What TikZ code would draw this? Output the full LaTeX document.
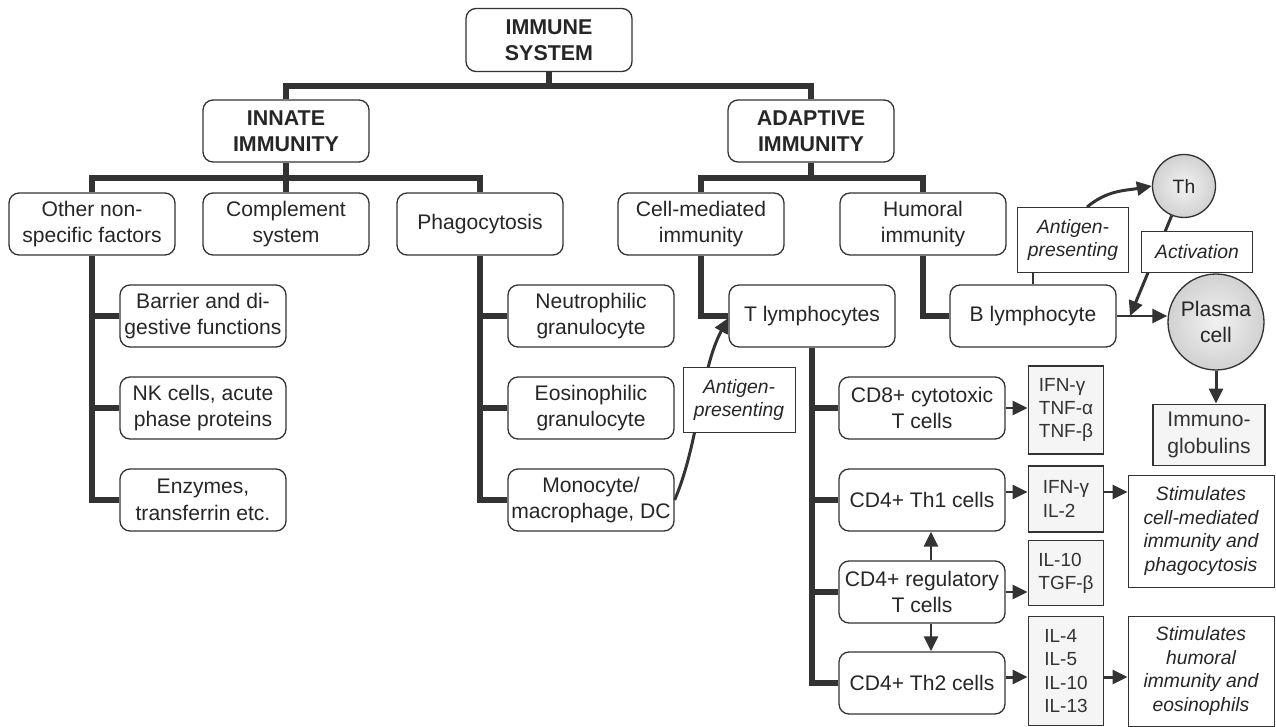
\documentclass[tikz,border=0pt]{standalone}
\usepackage{fontspec}
\setmainfont{Liberation Sans}
\usetikzlibrary{arrows.meta,shapes.geometric}

\definecolor{ink}{HTML}{333333}
\definecolor{cellin}{HTML}{F2F2F2}
\definecolor{cellout}{HTML}{B0B0B0}
\pgfdeclareradialshading{cellball}{\pgfpoint{0bp}{0bp}}{color(0bp)=(cellin); color(50bp)=(cellout)}

\begin{document}
\begin{tikzpicture}[x=0.02cm, y=-0.02cm,
  box/.style={draw=ink, line width=0.75pt, rounded corners=0.2cm, minimum width=3.32cm, minimum height=1.24cm, inner sep=1pt, align=center, text=black!85, font=\fontsize{12}{15.1}\selectfont},
  hbox/.style={box, font=\fontsize{12.2}{15.1}\selectfont\bfseries},
  cyto/.style={draw=ink, line width=1.1pt, fill=gray!8, minimum width=1.5cm, inner sep=2pt, align=left, text=black!80, font=\fontsize{10.8}{13.2}\selectfont},
  note/.style={draw=ink, line width=0.5pt, fill=white, inner sep=1pt, align=center, text=black!85, font=\fontsize{11}{13.4}\selectfont\itshape},
  cell/.style={ellipse, draw=ink, line width=0.75pt, shading=cellball, inner sep=1pt, align=center, text=black!85},
  bus/.style={draw=ink, line width=3pt},
  lnk/.style={draw=ink, line width=1.7pt},
  arr/.style={lnk, -{Triangle[length=0.3cm, width=0.28cm]}},
]
\useasboundingbox (0,0) rectangle (1276,727);

% top levels
\node[hbox, minimum height=1.26cm] (sys) at (549,40) {IMMUNE\\SYSTEM};
\node[hbox] (inn) at (286,131) {INNATE\\IMMUNITY};
\node[hbox] (ada) at (811,131) {ADAPTIVE\\IMMUNITY};

\node[box] (oth) at (92,224) {Other non-\\specific factors};
\node[box] (com) at (286,224) {Complement\\system};
\node[box] (pha) at (480,224) {Phagocytosis};
\node[box] (cel) at (701,224) {Cell-mediated\\immunity};
\node[box] (hum) at (923,224) {Humoral\\immunity};

% innate branches
\node[box] (bar) at (203,316) {Barrier and di-\\gestive functions};
\node[box] (nk) at (203,408) {NK cells, acute\\phase proteins};
\node[box] (enz) at (203,500) {Enzymes,\\transferrin etc.};
\node[box] (neu) at (591,316) {Neutrophilic\\granulocyte};
\node[box] (eos) at (591,408) {Eosinophilic\\granulocyte};
\node[box] (mon) at (591,500) {Monocyte/\\macrophage, DC};

% adaptive branches
\node[box] (tly) at (812,316) {T lymphocytes};
\node[box] (bly) at (1033,316) {B lymphocyte};
\node[box] (cd8) at (922,408) {CD8+ cytotoxic\\T cells};
\node[box] (th1) at (922,500) {CD4+ Th1 cells};
\node[box] (reg) at (922,592) {CD4+ regulatory\\T cells};
\node[box] (th2) at (922,683) {CD4+ Th2 cells};

\node[cyto, minimum height=1.76cm] (ck8) at (1066,410) {IFN-γ\\TNF-α\\TNF-β};
\node[cyto, minimum height=1.32cm] (ck1) at (1066,499) {IFN-γ\\IL-2};
\node[cyto, minimum height=1.3cm] (ckr) at (1066,573) {IL-10\\TGF-β};
\node[cyto, minimum height=2.18cm] (ck2) at (1066,671) {IL-4\\IL-5\\IL-10\\IL-13};

\node[note, minimum width=2.92cm, minimum height=2.24cm] (st1) at (1201,531) {Stimulates\\cell-mediated\\immunity and\\phagocytosis};
\node[note, minimum width=2.92cm, minimum height=2.2cm] (st2) at (1201,671) {Stimulates\\humoral\\immunity and\\eosinophils};

\node[cell, circle, minimum size=1.26cm, font=\fontsize{11}{13}\selectfont] (th) at (1184,186) {Th};
\node[cell, circle, minimum size=1.92cm, font=\fontsize{12}{15.1}\selectfont] (pla) at (1216,322) {Plasma\\cell};
\node[cyto, align=center, minimum width=2.24cm, minimum height=1.22cm, font=\fontsize{12}{15.1}\selectfont] (imm) at (1209,435) {Immuno-\\globulins};

% tree lines
\coordinate (j0) at (549,86);
\coordinate (j1) at (286,178);
\coordinate (j2) at (811,178);
\draw[bus] (sys.south) -- (j0);
\draw[bus] (inn.north) |- (j0) -| (ada.north);
\draw[bus] (inn.south) -- (com.north);
\draw[bus] (oth.north) |- (j1) -| (pha.north);
\draw[bus] (ada.south) -- (j2);
\draw[bus] (cel.north) |- (j2) -| (hum.north);

\draw[bus] (oth.south) |- (enz.west);
\draw[bus] (oth.south |- bar.west) -- (bar.west);
\draw[bus] (oth.south |- nk.west) -- (nk.west);
\draw[bus] (pha.south) |- (mon.west);
\draw[bus] (pha.south |- neu.west) -- (neu.west);
\draw[bus] (pha.south |- eos.west) -- (eos.west);

\draw[bus] (cel.south) |- (tly.west);
\draw[bus] (hum.south) |- (bly.west);
\draw[bus] (tly.south) |- (th2.west);
\draw[bus] (tly.south |- cd8.west) -- (cd8.west);
\draw[bus] (tly.south |- th1.west) -- (th1.west);
\draw[bus] (tly.south |- reg.west) -- (reg.west);

% arrows
\draw[arr] (cd8.east) -- (cd8.east -| ck8.west);
\draw[arr] ([yshift=0.16cm]th1.east) coordinate (a1) -- (a1 -| ck1.west);
\draw[arr] (a1 -| ck1.east) -- (a1 -| st1.west);
\draw[arr] (reg.east) -- (reg.east -| ckr.west);
\draw[arr] ([yshift=0.12cm]th2.east) coordinate (a2) -- (a2 -| ck2.west);
\draw[arr] (a2 -| ck2.east) -- (a2 -| st2.west);
\draw[arr] ([xshift=0.18cm]reg.north) -- ([xshift=0.18cm]th1.south);
\draw[arr] ([xshift=0.18cm]reg.south) -- ([xshift=0.18cm]th2.north);

\draw[arr] (bly.east) -- (bly.east -| pla.west);
\draw[arr] (pla.south) -- (pla.south |- imm.north);
\coordinate (hit) at (1130,316);
\draw[arr] (th) -- (hit);
\draw[arr] (mon.east) .. controls (700,440) and (700,370) .. ([yshift=-0.04cm]tly.west);

% labels on the links
\node[note, minimum width=2.24cm, minimum height=1.3cm, font=\fontsize{11}{12.6}\selectfont\itshape] (ag1) at (739,400) {Antigen-\\presenting};
\node[note, minimum width=2.22cm, minimum height=1.3cm, font=\fontsize{11}{12.6}\selectfont\itshape] (ag2) at (1073,240) {Antigen-\\presenting};
\node[note, minimum width=2.22cm, minimum height=0.82cm] (act) at (1197,252) {Activation};
\draw[lnk] (bly.north) -- (bly.north |- ag2.south);
\draw[arr] ([xshift=0.28cm]ag2.north) to[out=40, in=190] (th.west);
\end{tikzpicture}
\end{document}
